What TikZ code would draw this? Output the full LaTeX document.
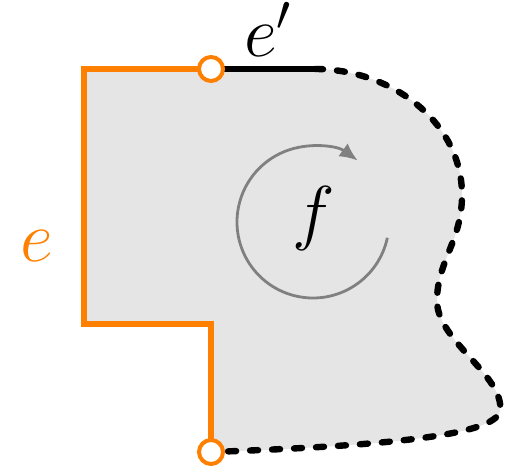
\RequirePackage{fix-cm}
\documentclass[tikz,border=0pt]{standalone}
\usepackage{amsmath}
\usepackage{tikz}
\usetikzlibrary{arrows.meta, positioning}

\definecolor{edgeorange}{RGB}{255,128,0}
\definecolor{facegray}{RGB}{229,229,229}

\begin{document}
\begin{tikzpicture}[
    x=0.5pt, y=0.5pt,
    >=Latex,
    lab/.style={
        font=\fontsize{36}{40}\selectfont,
        inner sep=0pt
    },
    vert/.style={
        circle,
        draw=edgeorange,
        line width=2pt,
        fill=white,
        minimum size=12pt,
        inner sep=0pt
    },
    oedge/.style={
        draw=edgeorange,
        line width=3pt
    },
    bedge/.style={
        draw=black,
        line width=2.8pt
    },
    dedge/.style={
        draw=black,
        line width=3.2pt,
        line cap=round,
        dash pattern=on 4pt off 7pt
    }
]
\useasboundingbox (0,0) rectangle (518,471);

% =========================================================
% corners of the face
% =========================================================
\coordinate (tl) at (84,402);
\coordinate (ml) at (84,147);
\coordinate (mr) at (211,147);
\coordinate (tr) at (315,402);
\coordinate (vt) at (211,402);
\coordinate (vb) at (211,19);

% face fill
\fill[facegray] (vt) -- (tl) -- (ml) -- (mr) -- (vb)
    .. controls (380,25) and (495,35) .. (500,60)
    .. controls (505,95) and (437,130) .. (437,170)
    .. controls (437,210) and (462,230) .. (462,276)
    .. controls (462,350) and (390,402) .. (tr) -- cycle;

% =========================================================
% boundary
% =========================================================
\draw[oedge] (vt) -- (tl) -- (ml) -- (mr) -- (vb);
\draw[bedge] (vt) -- (tr);
\draw[dedge] (tr)
    .. controls (390,402) and (462,350) .. (462,276)
    .. controls (462,230) and (437,210) .. (437,170)
    .. controls (437,130) and (505,95) .. (500,60)
    .. controls (495,35) and (380,25) .. (vb);

\node[vert] (vtop) at (vt) {};
\node[vert] (vbot) at (vb) {};

% =========================================================
% labels
% =========================================================
\node[lab, text=edgeorange] (le) at (37,225) {$e$};
\node[lab, anchor=base] (lep) at (268,414) {$e'$};

% orientation of the face
\node[lab] (lf) at (314,252) {$f$};
\draw[->, draw=black!50, line width=1.4pt,
      -{Latex[length=9pt,width=8pt]}]
    (313,249) ++(-12:76) arc[start angle=-12, end angle=-306, radius=76];

\end{tikzpicture}
\end{document}
